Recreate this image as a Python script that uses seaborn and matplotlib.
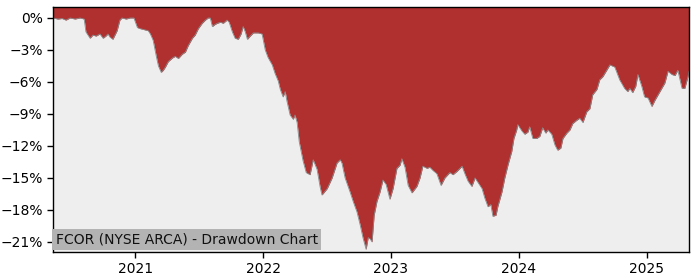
import matplotlib
matplotlib.use("Agg")
import matplotlib.pyplot as plt
import matplotlib.ticker as mticker
import seaborn as sns
import pandas as pd
import numpy as np

title = "FCOR (NYSE ARCA) - Drawdown Chart"

dates = [
    "2020-05-11", "2020-05-25", "2020-06-06", "2020-06-17", "2020-06-29", "2020-07-13",
    "2020-07-27", "2020-08-08", "2020-08-13", "2020-08-19", "2020-08-25", "2020-09-02",
    "2020-09-11", "2020-09-22", "2020-10-01", "2020-10-09", "2020-10-15", "2020-10-21",
    "2020-10-29", "2020-11-04", "2020-11-10", "2020-11-18", "2020-11-24", "2020-12-06",
    "2020-12-17", "2020-12-28",
    "2021-01-07", "2021-01-15", "2021-01-27", "2021-02-07", "2021-02-13", "2021-02-21",
    "2021-03-02", "2021-03-08", "2021-03-16", "2021-03-22", "2021-03-28", "2021-04-05",
    "2021-04-17", "2021-04-25", "2021-05-04", "2021-05-15", "2021-05-24", "2021-06-01",
    "2021-06-13", "2021-06-21", "2021-06-30", "2021-07-11", "2021-07-20", "2021-07-28",
    "2021-08-03", "2021-08-09", "2021-08-17", "2021-08-23", "2021-09-01", "2021-09-09",
    "2021-09-20", "2021-09-26", "2021-10-05", "2021-10-13", "2021-10-22", "2021-10-30",
    "2021-11-05", "2021-11-11", "2021-11-17", "2021-11-25", "2021-12-04", "2021-12-18",
    "2021-12-29",
    "2022-01-07", "2022-01-15", "2022-01-27", "2022-02-04", "2022-02-13", "2022-02-19",
    "2022-02-27", "2022-03-05", "2022-03-10", "2022-03-19", "2022-03-28", "2022-04-02",
    "2022-04-08", "2022-04-14", "2022-04-25", "2022-05-04", "2022-05-15", "2022-05-24",
    "2022-06-04", "2022-06-13", "2022-06-18", "2022-07-03", "2022-07-17", "2022-07-31",
    "2022-08-09", "2022-08-14", "2022-08-23", "2022-09-06", "2022-09-15", "2022-09-26",
    "2022-10-05", "2022-10-13", "2022-10-22", "2022-10-28", "2022-11-02", "2022-11-08",
    "2022-11-14", "2022-11-22", "2022-12-01", "2022-12-09", "2022-12-18", "2022-12-29",
    "2023-01-07", "2023-01-18", "2023-01-27", "2023-02-01", "2023-02-10", "2023-02-19",
    "2023-03-02", "2023-03-16", "2023-03-25", "2023-04-02", "2023-04-14", "2023-04-22",
    "2023-05-01", "2023-05-12", "2023-05-24", "2023-06-04", "2023-06-18", "2023-06-27",
    "2023-07-08", "2023-07-23", "2023-07-31", "2023-08-09", "2023-08-20", "2023-08-29",
    "2023-09-06", "2023-09-18", "2023-09-26", "2023-10-05", "2023-10-13", "2023-10-19",
    "2023-10-28", "2023-11-02", "2023-11-14", "2023-11-22", "2023-12-01", "2023-12-12",
    "2023-12-18", "2023-12-26", "2023-12-29",
    "2024-01-10", "2024-01-18", "2024-01-27", "2024-02-01", "2024-02-10", "2024-02-21",
    "2024-03-01", "2024-03-09", "2024-03-18", "2024-03-24", "2024-04-04", "2024-04-13",
    "2024-04-21", "2024-04-30", "2024-05-06", "2024-05-17", "2024-05-26", "2024-06-03",
    "2024-06-14", "2024-06-23", "2024-07-02", "2024-07-13", "2024-07-22", "2024-07-30",
    "2024-08-11", "2024-08-19", "2024-08-28", "2024-09-08", "2024-09-17", "2024-10-01",
    "2024-10-15", "2024-10-29", "2024-11-07", "2024-11-13", "2024-11-21", "2024-11-30",
    "2024-12-06", "2024-12-17", "2024-12-25",
    "2025-01-04", "2025-01-15", "2025-01-24", "2025-02-07", "2025-02-21", "2025-03-02",
    "2025-03-13", "2025-03-22", "2025-03-30", "2025-04-11", "2025-04-19", "2025-04-28",
    "2025-05-01",
]

drawdown = [
    0.0, -0.1, -0.05, -0.2, 0.0, -0.1,
    0.0, -0.1, -1.3, -1.6, -1.9, -1.6,
    -1.7, -1.5, -1.9, -1.7, -1.5, -1.8,
    -2.0, -1.6, -1.2, -0.2, 0.0, -0.1,
    0.0, 0.0,
    -0.9, -1.0, -1.1, -1.2, -1.5, -2.1,
    -3.6, -4.5, -5.1, -4.9, -4.6, -4.1,
    -3.75, -3.6, -3.8, -3.4, -3.2, -2.6,
    -1.9, -1.6, -1.0, -0.5, -0.2, 0.0,
    0.0, -0.8, -0.6, -0.5, -0.4, -0.5,
    -0.2, -0.4, -1.3, -1.9, -2.0, -1.5,
    -0.8, -1.3, -2.0, -1.7, -1.4, -1.4,
    -1.5,
    -3.0, -3.7, -4.4, -5.2, -5.9, -6.7,
    -7.4, -6.9, -7.8, -9.1, -9.5, -9.1,
    -9.8, -11.6, -13.4, -14.5, -14.7, -13.3,
    -14.2, -15.9, -16.6, -16.0, -15.0, -13.6,
    -13.3, -13.6, -15.0, -16.3, -17.2, -18.2,
    -19.4, -20.6, -21.7, -20.6, -20.7, -21.0,
    -18.5, -17.2, -16.3, -15.2, -15.6, -17.0,
    -16.0, -14.1, -13.8, -13.2, -14.0, -15.7,
    -16.4, -15.8, -15.0, -13.9, -14.1, -14.0,
    -14.3, -14.6, -15.7, -15.0, -14.5, -14.7,
    -14.4, -13.9, -14.6, -15.3, -15.8, -15.0,
    -15.4, -16.0, -16.9, -17.7, -17.5, -18.6,
    -18.5, -17.7, -16.3, -15.0, -13.8, -12.5,
    -11.3, -10.5, -10.0,
    -10.6, -10.9, -10.7, -10.2, -11.3, -11.3,
    -11.1, -10.3, -10.8, -10.5, -10.9, -11.9,
    -12.4, -12.2, -11.3, -10.8, -10.5, -9.9,
    -9.6, -9.4, -9.8, -8.8, -8.5, -7.2,
    -6.7, -5.8, -5.5, -4.9, -4.4, -4.6,
    -5.8, -6.6, -6.9, -6.6, -7.0, -6.4,
    -5.3, -6.4, -7.4,
    -7.5, -8.3, -7.7, -6.9, -6.1, -5.0,
    -5.3, -5.4, -4.9, -6.6, -6.6, -5.5,
    -5.0,
]

y_ticks = [0, -3, -6, -9, -12, -15, -18, -21]
x_tick_years = ["2021", "2022", "2023", "2024", "2025"]

df = pd.DataFrame({"date": pd.to_datetime(dates), "drawdown": drawdown})

sns.set_style("ticks")
plt.rcParams["font.family"] = ["DejaVu Sans"]

fig = plt.figure(figsize=(7, 2.8), dpi=100)
ax = fig.add_axes([0.0757, 0.1, 0.9086, 0.875])
ax.set_facecolor("#eeeeee")

y_top = 1.03
y_bot = -21.95
ax.fill_between(df["date"], df["drawdown"], y_top, color="#b02f2f", linewidth=0)
sns.lineplot(data=df, x="date", y="drawdown", ax=ax, color="#8a8a8a", linewidth=0.6)

ax.set_xlim(df["date"].min(), df["date"].max())
ax.set_ylim(y_bot, y_top)
ax.set_yticks(y_ticks)
ax.yaxis.set_major_formatter(mticker.FuncFormatter(lambda v, p: f"{v:.0f}%".replace("-", "\u2212")))
ax.set_xticks(pd.to_datetime([y + "-01-01" for y in x_tick_years]))
ax.set_xticklabels(x_tick_years)
ax.set_xlabel("")
ax.set_ylabel("")
for s in ax.spines.values():
    s.set_visible(True)
    s.set_color("black")
    s.set_linewidth(1.0)
ax.tick_params(axis="both", labelsize=10, colors="black", length=4, width=1)

ax.text(0.004, 0.022, title, transform=ax.transAxes, ha="left", va="bottom",
        fontsize=10, color="#111111",
        bbox=dict(facecolor="#b3b3b3", edgecolor="none", pad=2.5))

fig.savefig("out.png", dpi=100)
